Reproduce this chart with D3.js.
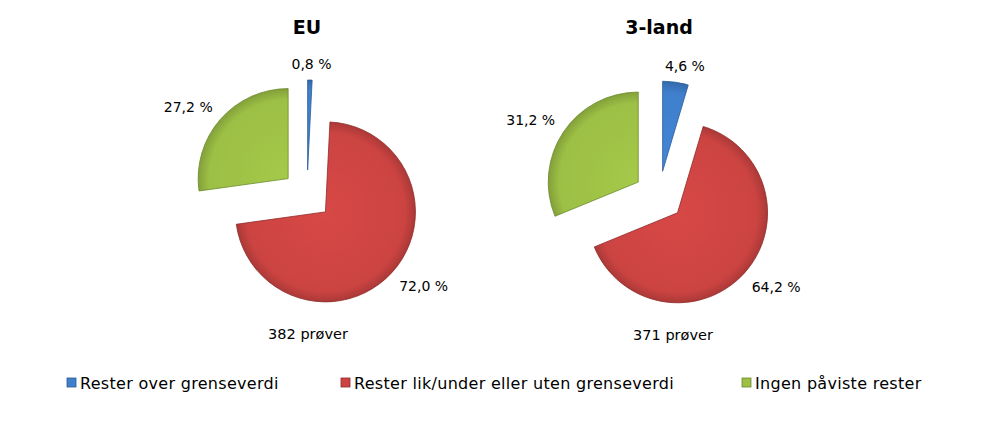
<!DOCTYPE html>
<html>
<head>
<meta charset="utf-8">
<script src="https://cdn.jsdelivr.net/npm/d3@7"></script>
<style>
  body { margin: 0; background: #fff; }
  text { font-family: "DejaVu Sans", Verdana, sans-serif; fill: #000; }
</style>
</head>
<body>
<div id="chart"></div>
<script>
// data
const categories = ["Rester over grenseverdi", "Rester lik/under eller uten grenseverdi", "Ingen påviste rester"];
const groups = ["EU", "3-land"];
const euValues = [0.8, 72.0, 27.2];
const landValues = [4.6, 64.2, 31.2];
const sampleCounts = [382, 371];

const width = 982, height = 438;
const radius = 90, explode = 25;
const centers = [[307, 195], [659, 196]];
const colour = d3.scaleOrdinal().domain(categories).range(["#3f7fcc", "#cc4442", "#9cbf45"]);
const darker = d3.scaleOrdinal().domain(categories).range(["#2a5a96", "#8e2a29", "#6a8a2a"]);

const svg = d3.select("#chart").append("svg")
    .attr("width", width)
    .attr("height", height);

const defs = svg.append("defs");
categories.forEach(function(c, i) {
  const g = defs.append("radialGradient")
      .attr("id", "grad" + i)
      .attr("gradientUnits", "userSpaceOnUse")
      .attr("cx", 0).attr("cy", 0).attr("r", radius);
  const base = d3.color(colour(c));
  g.append("stop").attr("offset", "0%").attr("stop-color", base.brighter(0.15));
  g.append("stop").attr("offset", "88%").attr("stop-color", base);
  g.append("stop").attr("offset", "100%").attr("stop-color", base.darker(0.5));
});

const pie = d3.pie().sort(null).value(function(d) { return d; });
const arc = d3.arc().innerRadius(0).outerRadius(radius);
const fmt = function(v) { return d3.format(".1f")(v).replace(".", ",") + " %"; };

[euValues, landValues].forEach(function(values, k) {
  const cx = centers[k][0], cy = centers[k][1];
  const g = svg.append("g").attr("transform", "translate(" + cx + "," + cy + ")");

  svg.append("text")
      .attr("x", cx).attr("y", 34)
      .attr("text-anchor", "middle")
      .style("font-weight", "bold")
      .style("font-size", "19px")
      .text(groups[k]);

  const arcs = pie(values);

  arcs.forEach(function(d, i) {
    const mid = (d.startAngle + d.endAngle) / 2;
    const dx = Math.sin(mid) * explode, dy = -Math.cos(mid) * explode;
    const s = g.append("g").attr("transform", "translate(" + dx + "," + dy + ")");
    s.append("path")
        .attr("d", arc(d))
        .attr("fill", "url(#grad" + i + ")")
        .attr("stroke", darker(categories[i]))
        .attr("stroke-width", 0.8)
        .attr("stroke-linejoin", "round");

    // labels just outside the exploded slice
    const lr = radius + explode + 10;
    const lx = Math.sin(mid) * lr, ly = -Math.cos(mid) * lr;
    const sx = Math.sin(mid);
    const anchor = sx > 0.3 ? "start" : (sx < -0.3 ? "end" : "middle");
    g.append("text")
        .attr("x", lx + (anchor === "middle" ? sx * 55 : 0))
        .attr("y", ly + (Math.cos(mid) > 0 ? -6 : 7))
        .attr("dy", "0.35em")
        .attr("text-anchor", anchor)
        .style("font-size", "14px")
        .text(fmt(values[i]));
  });

  svg.append("text")
      .attr("x", cx + (k === 0 ? 1 : 14))
      .attr("y", cy + 144)
      .attr("text-anchor", "middle")
      .style("font-size", "14.5px")
      .text(sampleCounts[k] + " prøver");
});

// legend
const legendX = [67, 341, 742];
const legend = svg.selectAll(".legend").data(categories).enter().append("g")
    .attr("class", "legend")
    .attr("transform", function(d, i) { return "translate(" + legendX[i] + ",383)"; });
legend.append("rect")
    .attr("x", 0).attr("y", -5)
    .attr("width", 9).attr("height", 9)
    .attr("fill", function(d) { return colour(d); })
    .attr("stroke", function(d) { return darker(d); })
    .attr("stroke-width", 0.8);
legend.append("text")
    .attr("x", 13).attr("y", 0)
    .attr("dy", "0.35em")
    .style("font-size", "16px")
    .style("letter-spacing", "0.3px")
    .text(function(d) { return d; });
</script>
</body>
</html>
